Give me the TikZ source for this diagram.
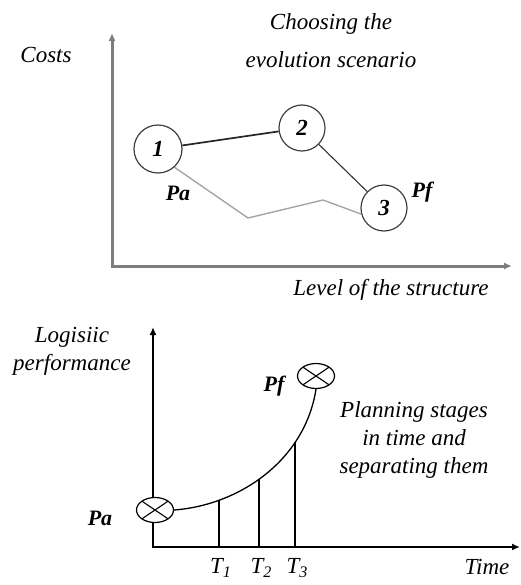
\documentclass[tikz,border=0pt]{standalone}
\usepackage{fontspec}
\setmainfont{Liberation Serif}
\usetikzlibrary{arrows.meta,positioning,shapes.geometric,calc}

\definecolor{axisgray}{RGB}{125,125,125}
\definecolor{pathgray}{RGB}{165,165,165}

\begin{document}
\begin{tikzpicture}[
  x=1pt, y=-1pt,
  every node/.style={align=center, inner sep=0pt},
  lbl/.style={font=\fontsize{23}{28}\selectfont\itshape},
  ttl/.style={font=\fontsize{23}{38}\selectfont\itshape},
  pt/.style={font=\fontsize{22}{25}\selectfont\bfseries\itshape},
  stage/.style={draw=black!75, circle, line width=1.2pt, fill=white, font=\fontsize{23}{25}\selectfont\bfseries\itshape},
  crossmark/.style={draw, ellipse, line width=1.2pt, fill=white, minimum width=37pt, minimum height=25pt,
    path picture={\draw[line width=1.1pt] (path picture bounding box.north west) -- (path picture bounding box.south east)
      (path picture bounding box.south west) -- (path picture bounding box.north east);}},
  axis/.style={{Latex[length=8pt,width=7pt]}-{Latex[length=8pt,width=7pt]}}
]
  \useasboundingbox (0,0) rectangle (520,585);

  % Top: costs against level of the structure
  \coordinate (o1) at (112,266);
  \draw[axis, axisgray, line width=3pt] (112,33) coordinate (y1) -- (o1) -- (512,266) coordinate (x1);

  \node[lbl] (costs) at (46,55) {Costs};
  \node[ttl] (choose) at (331,41) {Choosing the\\evolution scenario};
  \node[lbl] (level) at (391,290) {Level of the structure};

  \node[stage, minimum size=48pt] (c1) at (158,149) {1};
  \node[stage, minimum size=46pt] (c2) at (302,128) {2};
  \node[stage, minimum size=46pt] (c3) at (384,208) {3};
  \node[pt] (pa1) at (178,193) {Pa};
  \node[pt] (pf1) at (422,192) {Pf};

  \coordinate (v1) at (248,218);
  \coordinate (v2) at (323,200);
  \draw[line width=1.7pt, black!85] (c1) -- (c2);
  \draw[line width=1.1pt, black!80] (c2) -- (c3);
  \draw[line width=1.4pt, pathgray] (c1.-48) -- (v1) -- (v2) -- (c3.195);

  % Bottom: logistic performance in time
  \coordinate (o2) at (153,547);
  \draw[axis, line width=1.8pt] (153,327) coordinate (y2) -- (o2) -- (520,547) coordinate (x2);

  \node[lbl] (perf) at (72,351) {Logisiic\\performance};
  \node[lbl] (time) at (487,567) {Time};
  \node[lbl] (plan) at (414,440) {Planning stages\\in time and\\separating them};

  \node[crossmark] (pa2) at (155,510) {};
  \node[crossmark] (pf2) at (316,376) {};
  \node[pt] (pa2lbl) at (100,518) {Pa};
  \node[pt] (pf2lbl) at (274,386) {Pf};

  \draw[line width=1.3pt] (pa2.east) .. controls (240,505) and (305,460) .. (pf2.south)
    coordinate[pos=0.23] (s1) coordinate[pos=0.46] (s2) coordinate[pos=0.72] (s3);
  \foreach \i in {1,2,3} {
    \draw[line width=1.7pt] (s\i) -- (s\i |- o2);
    \node[lbl] (t\i) at ($(s\i |- o2)+(2,21)$) {\textit{T}\textsubscript{\textit{\i}}};
  }
\end{tikzpicture}
\end{document}
